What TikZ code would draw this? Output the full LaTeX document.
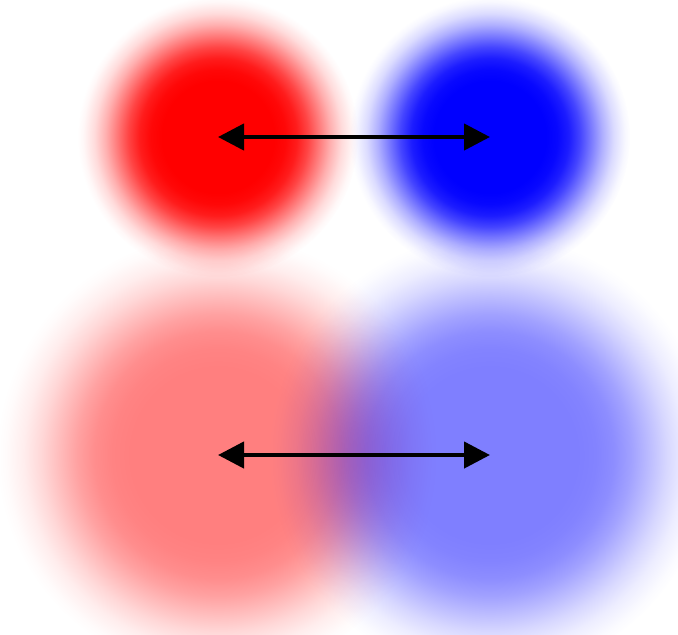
\documentclass[tikz,border=0pt]{standalone}
\usetikzlibrary{arrows.meta,fadings}

\pgfdeclareradialshading{blobshade}{\pgfpointorigin}{%
  color(0bp)=(pgftransparent!0); color(10bp)=(pgftransparent!0);
  color(12bp)=(pgftransparent!3); color(14bp)=(pgftransparent!11);
  color(16bp)=(pgftransparent!27); color(18bp)=(pgftransparent!48);
  color(20bp)=(pgftransparent!69); color(22bp)=(pgftransparent!86);
  color(24bp)=(pgftransparent!97); color(25bp)=(pgftransparent!100);
  color(50bp)=(pgftransparent!100)}
\pgfdeclarefading{blobfade}{\pgfuseshading{blobshade}}

\tikzset{
  blob/.style={fill=#1, path fading=blobfade, fit fading=true},
  link/.style={line width=2.2pt, {Triangle[length=13pt,width=13pt]}-{Triangle[length=13pt,width=13pt]}}
}

\begin{document}
\begin{tikzpicture}[x=0.5pt, y=-0.5pt]
  \useasboundingbox (0,0) rectangle (678,634);

  \coordinate (RT) at (218, 137);
  \coordinate (BT) at (490, 137);
  \coordinate (RB) at (218, 455);
  \coordinate (BB) at (490, 455);

  \fill[blob=red]  (RT) circle (70pt);
  \fill[blob=blue] (BT) circle (70pt);
  \fill[blob=red, opacity=0.5]  (RB) circle (110pt);
  \fill[blob=blue, opacity=0.5] (BB) circle (110pt);

  \draw[link] (RT) -- (BT);
  \draw[link] (RB) -- (BB);
\end{tikzpicture}
\end{document}
